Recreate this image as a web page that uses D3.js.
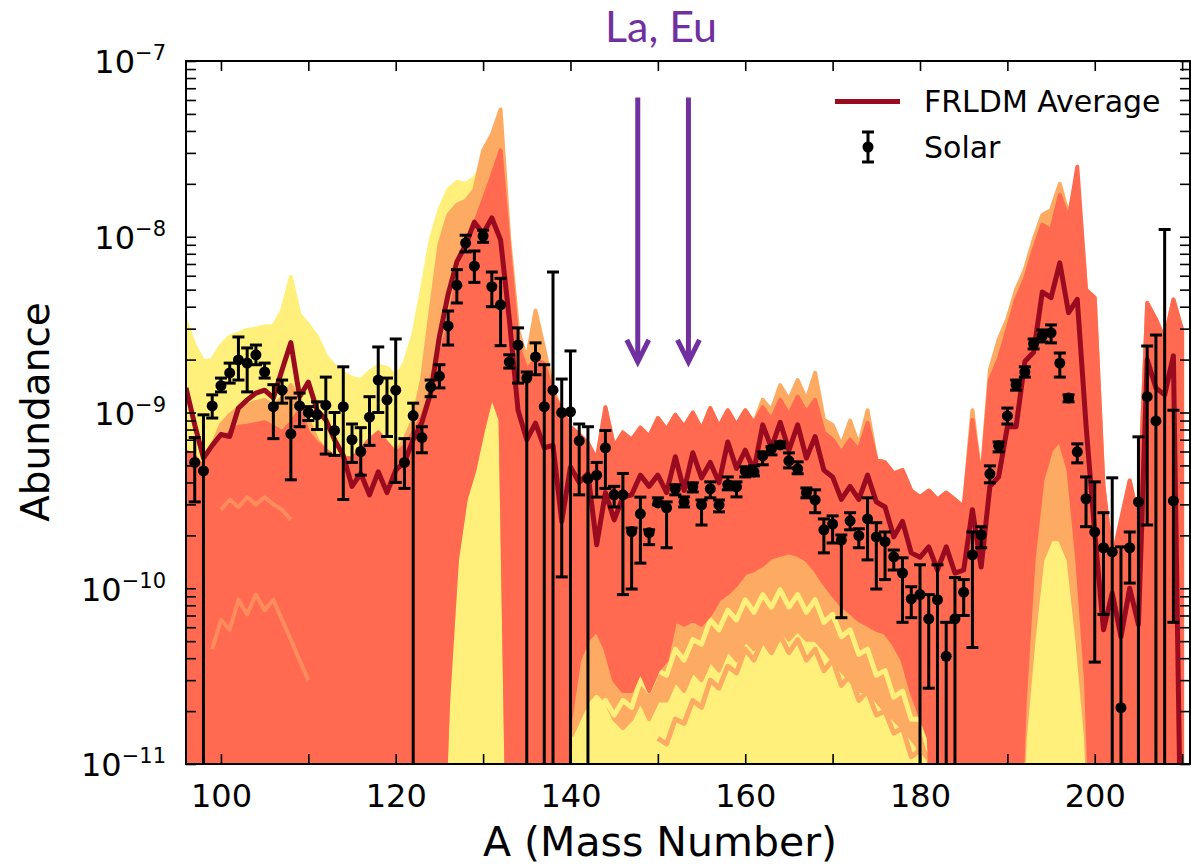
<!DOCTYPE html>
<html><head><meta charset="utf-8">
<script src="https://cdn.jsdelivr.net/npm/d3@7"></script>
<style>
body{margin:0;background:#fff}
svg{display:block}
text{font-family:"DejaVu Sans",sans-serif;fill:#000}
</style>
</head><body>
<svg id="chart" width="1191" height="868"></svg>
<script>
// ---------- DATA ----------
// mass numbers for the model band (A = 96 ... 210)
const bandA = d3.range(96, 211);

// upper envelope of the yellow model runs
const yellowTop = [
 3.3e-9,2.4e-9,1.95e-9,2.0e-9,2.4e-9,2.7e-9,2.8e-9,2.95e-9,3.0e-9,3.1e-9,
 3.1e-9,3.8e-9,5.9e-9,3.6e-9,3.15e-9,2.7e-9,2.1e-9,1.84e-9,1.68e-9,1.57e-9,
 1.53e-9,1.7e-9,1.84e-9,1.8e-9,1.6e-9,1.9e-9,2.76e-9,5.0e-9,9.6e-9,1.42e-8,
 1.85e-8,2.05e-8,2.0e-8,2.16e-8,2.56e-8,1.6e-8,7.4e-9,9.1e-10,1.45e-10,1.9e-10,
 1.9e-10,1.0e-10,6.0e-11,5.0e-11,4.0e-11,5.0e-11,6.0e-11,6.5e-11,5.5e-11,4.5e-11,
 4.0e-11,4.5e-11,5.0e-11,4.5e-11,5.5e-11,5.0e-11,7.0e-11,6.0e-11,8.0e-11,7.0e-11,
 9.0e-11,8.0e-11,1.0e-10,9.0e-11,1.1e-10,1.0e-10,1.2e-10,1.1e-10,1.25e-10,1.15e-10,
 1.2e-10,1.1e-10,1.05e-10,9.0e-11,8.0e-11,7.0e-11,6.5e-11,6.0e-11,5.5e-11,5.0e-11,
 4.5e-11,4.0e-11,3.5e-11,3.0e-11,2.5e-11,2.0e-11,1.5e-11,1e-12,1e-12,1e-12,
 1e-12,1e-12,1e-12,1e-12,1e-12,3.0e-11,1.0e-10,3.0e-10,5.0e-10,6.5e-10,
 7.0e-10,5.0e-10,2.0e-10,5.0e-11,1e-12,1e-12,1e-12,1e-12,1e-12,1e-12,
 1e-12,1e-12,1e-12,1e-12,1e-12
];

// upper envelope of the orange model runs
const orangeTop = [
 6.0e-10,5.6e-10,4.9e-10,6.5e-10,8.5e-10,9.7e-10,1.06e-9,1.1e-9,1.15e-9,1.18e-9,
 1.1e-9,1.21e-9,1.43e-9,1.18e-9,9.1e-10,7.0e-10,6.1e-10,5.6e-10,5.5e-10,5.5e-10,
 6.1e-10,7.0e-10,7.7e-10,6.7e-10,5.9e-10,7.0e-10,9.1e-10,1.53e-9,3.8e-9,9.0e-9,
 1.33e-8,1.52e-8,1.6e-8,1.85e-8,3.1e-8,3.8e-8,5.3e-8,9.6e-9,2.95e-9,2.0e-9,
 3.8e-9,2.3e-9,1.34e-9,1.03e-9,8.3e-10,7.5e-10,6.7e-10,5.4e-10,1.07e-9,6.4e-10,
 7.7e-10,7.0e-10,8.2e-10,7.3e-10,9.3e-10,8.0e-10,9.7e-10,8.3e-10,1.0e-9,8.0e-10,
 1.06e-9,8.3e-10,1.03e-9,8.5e-10,1.03e-9,8.7e-10,1.18e-9,1.03e-9,1.43e-9,1.18e-9,
 1.53e-9,1.18e-9,1.68e-9,9.1e-10,8.5e-10,6.5e-10,9.0e-10,6.5e-10,1.03e-9,5.4e-10,
 5.2e-10,4.5e-10,4.7e-10,3.6e-10,3.3e-10,3.6e-10,3.2e-10,3.5e-10,3.2e-10,2.9e-10,
 1.03e-9,4.1e-10,1.75e-9,2.6e-9,3.4e-9,5.0e-9,6.5e-9,9.6e-9,1.33e-8,1.42e-8,
 2.0e-8,1.33e-8,2.2e-8,5.0e-9,4.5e-9,3.8e-10,1.45e-10,2.45e-10,4.1e-10,2.45e-10,
 4.2e-9,3.4e-9,2.6e-9,4.4e-9,2.95e-9
];

// lower edge of the orange runs (yellow shows below)
const orangeLow = [
 1e-12,1e-12,1e-12,1e-12,1e-12,1e-12,1e-12,1e-12,1e-12,1e-12,
 1e-12,1e-12,1e-12,1e-12,1e-12,1e-12,1e-12,1e-12,1e-12,1e-12,
 1e-12,1e-12,1e-12,1e-12,1e-12,1e-12,1e-12,1e-12,1e-12,1e-12,
 2.3e-11,1.45e-10,3.2e-10,4.7e-10,8.0e-10,1.26e-9,9.1e-10,1e-12,1e-12,1e-12,
 1e-12,1e-12,1e-12,1e-12,1.4e-11,1.8e-11,2.3e-11,2.6e-11,2.3e-11,1.8e-11,
 1.6e-11,1.8e-11,2.3e-11,1.8e-11,2.3e-11,2.3e-11,3.0e-11,2.6e-11,3.4e-11,3.0e-11,
 3.9e-11,3.4e-11,4.5e-11,3.9e-11,5.1e-11,4.5e-11,5.1e-11,4.5e-11,5.8e-11,5.1e-11,
 5.8e-11,5.1e-11,5.1e-11,4.5e-11,3.9e-11,3.4e-11,3.0e-11,2.6e-11,2.6e-11,2.3e-11,
 2.0e-11,1.8e-11,1.6e-11,1.4e-11,1.2e-11,1.06e-11,1e-12,1e-12,1e-12,1e-12,
 1e-12,1e-12,1e-12,1e-12,1e-12,1e-12,1.4e-11,5.1e-11,1.45e-10,1.9e-10,
 1.9e-10,1.45e-10,5.1e-11,1.4e-11,1e-12,1e-12,1e-12,1e-12,1e-12,1e-12,
 1e-12,1e-12,1e-12,1e-12,1e-12
];

// upper envelope of the red-orange model runs
const redTop = [
 6.0e-10,5.6e-10,4.9e-10,6.0e-10,7.0e-10,7.7e-10,8.3e-10,8.4e-10,8.6e-10,8.8e-10,
 8.3e-10,7.7e-10,8.7e-10,1.03e-9,7.7e-10,6.7e-10,6.1e-10,5.6e-10,5.5e-10,5.5e-10,
 6.1e-10,7.0e-10,7.7e-10,6.7e-10,5.9e-10,6.4e-10,7.7e-10,9.4e-10,1.3e-9,2.0e-9,
 3.1e-9,5.7e-9,8.4e-9,1.17e-8,1.6e-8,2.2e-8,3.1e-8,8.4e-9,2.4e-9,1.75e-9,
 2.0e-9,1.9e-9,1.26e-9,1.03e-9,8.3e-10,7.5e-10,6.7e-10,5.4e-10,1.07e-9,6.4e-10,
 7.7e-10,7.0e-10,8.2e-10,7.3e-10,9.3e-10,8.0e-10,9.7e-10,8.3e-10,1.0e-9,8.0e-10,
 1.06e-9,8.3e-10,1.03e-9,8.5e-10,1.03e-9,8.7e-10,1.07e-9,9.1e-10,1.18e-9,9.7e-10,
 1.23e-9,1.0e-9,1.18e-9,7.7e-10,7.0e-10,5.9e-10,7.0e-10,6.1e-10,8.7e-10,5.4e-10,
 5.2e-10,4.5e-10,4.7e-10,3.6e-10,3.3e-10,3.6e-10,3.2e-10,3.5e-10,3.2e-10,2.9e-10,
 9.1e-10,4.1e-10,1.53e-9,2.0e-9,2.95e-9,4.4e-9,5.7e-9,8.4e-9,1.17e-8,1.09e-8,
 1.73e-8,1.25e-8,2.5e-8,5.0e-9,4.5e-9,3.8e-10,1.45e-10,2.45e-10,4.1e-10,2.45e-10,
 4.2e-9,3.4e-9,2.6e-9,4.4e-9,2.95e-9
];

// lower edge of the red-orange runs
const redLow = [
 1e-12,1e-12,1e-12,1e-12,1e-12,1e-12,1e-12,1e-12,1e-12,1e-12,
 1e-12,1e-12,1e-12,1e-12,1e-12,1e-12,1e-12,1e-12,1e-12,1e-12,
 1e-12,1e-12,1e-12,1e-12,1e-12,1e-12,1e-12,1e-12,1e-12,1e-12,
 2.3e-11,1.45e-10,3.2e-10,4.7e-10,8.0e-10,1.26e-9,9.1e-10,1e-12,1e-12,1e-12,
 1e-12,1e-12,1e-12,1e-12,1.8e-11,3.9e-11,5.1e-11,5.8e-11,4.5e-11,3.0e-11,
 2.6e-11,2.6e-11,3.4e-11,2.6e-11,3.4e-11,3.9e-11,6.6e-11,6.2e-11,6.6e-11,6.2e-11,
 7.1e-11,8.6e-11,9.4e-11,1.05e-10,1.22e-10,1.27e-10,1.36e-10,1.5e-10,1.55e-10,1.6e-10,
 1.55e-10,1.45e-10,1.27e-10,1.07e-10,9.2e-11,8.0e-11,7.3e-11,6.6e-11,6.2e-11,5.8e-11,
 5.6e-11,4.8e-11,3.9e-11,2.6e-11,1.9e-11,1.4e-11,1e-12,1e-12,1e-12,1e-12,
 1e-12,1e-12,1e-12,1e-12,1e-12,1e-12,2.3e-11,1.45e-10,4.1e-10,6.1e-10,
 7.0e-10,4.7e-10,1.45e-10,3.0e-11,1e-12,1e-12,1e-12,1e-12,1e-12,1e-12,
 1e-12,1e-12,1e-12,1e-12,1e-12
];

// a few individual lighter model runs seen in the lower part of the band
const strandA1 = d3.range(140, 183);
const strandYellow = [
 1.4e-11,1.3e-11,1.8e-11,1.7e-11,2.3e-11,1.9e-11,2.3e-11,2.1e-11,3.0e-11,2.6e-11,
 3.4e-11,3.2e-11,4.5e-11,3.9e-11,5.1e-11,4.8e-11,6.6e-11,5.8e-11,7.5e-11,6.6e-11,
 8.6e-11,7.3e-11,9.2e-11,7.8e-11,9.8e-11,7.8e-11,9.2e-11,7.3e-11,8.6e-11,6.4e-11,
 7.1e-11,5.3e-11,5.8e-11,4.2e-11,4.5e-11,3.2e-11,3.4e-11,2.4e-11,2.6e-11,1.8e-11,
 1.8e-11,1.2e-11,1.2e-11
];
const strandA2 = d3.range(150, 181);
const strandOrange = [
 1.4e-11,1.3e-11,1.8e-11,1.7e-11,2.3e-11,2.1e-11,3.0e-11,2.7e-11,3.6e-11,3.3e-11,
 4.5e-11,3.9e-11,5.1e-11,4.3e-11,5.4e-11,4.3e-11,5.1e-11,3.9e-11,4.5e-11,3.4e-11,
 3.9e-11,2.8e-11,3.2e-11,2.3e-11,2.6e-11,1.9e-11,2.0e-11,1.5e-11,1.6e-11,1.1e-11,
 1.2e-11
];
const strandA3 = [100,101,102,103,104,105,106,107,108];
const strandSalmonHigh = [2.8e-10,3.2e-10,2.9e-10,3.3e-10,3.0e-10,3.3e-10,3.0e-10,2.8e-10,2.45e-10];
const strandA4 = [99,100,101,102,103,104,105,106,107,108,109,110];
const strandSalmonLow = [4.5e-11,6.6e-11,5.8e-11,8.6e-11,7.1e-11,9.2e-11,7.5e-11,8.6e-11,6.6e-11,5.1e-11,3.9e-11,3.0e-11];

// FRLDM average
const frldmAverage = [
 1.38e-9,8.5e-10,5.5e-10,6.5e-10,7.5e-10,7.3e-10,1.06e-9,1.18e-9,1.29e-9,1.34e-9,
 1.21e-9,1.75e-9,2.5e-9,1.23e-9,1.49e-9,1.03e-9,9.1e-10,7.0e-10,5.7e-10,3.8e-10,
 4.5e-10,3.4e-10,4.6e-10,3.5e-10,4.7e-10,5.2e-10,7.0e-10,8.8e-10,1.29e-9,2.7e-9,
 4.7e-9,7.2e-9,9.0e-9,1.21e-8,1.04e-8,1.28e-8,9.6e-9,3.4e-9,1.03e-9,7.0e-10,
 8.7e-10,6.3e-10,6.5e-10,2.4e-10,4.9e-10,4.0e-10,4.5e-10,1.77e-10,3.5e-10,2.45e-10,
 3.3e-10,3.4e-10,4.4e-10,3.8e-10,4.4e-10,3.5e-10,5.6e-10,3.6e-10,5.9e-10,4.25e-10,
 5.2e-10,3.98e-10,6.8e-10,4.8e-10,6.1e-10,4.7e-10,8.5e-10,6.3e-10,8.8e-10,6.1e-10,
 8.5e-10,5.5e-10,7.3e-10,4.7e-10,4.3e-10,3.2e-10,3.8e-10,3.2e-10,4.4e-10,3.1e-10,
 2.9e-10,1.96e-10,2.4e-10,1.59e-10,1.5e-10,1.72e-10,1.27e-10,1.72e-10,1.22e-10,1.27e-10,
 2.8e-10,1.32e-10,3.8e-10,4.3e-10,8.3e-10,8.3e-10,1.95e-9,2.2e-9,4.85e-9,4.5e-9,
 7.1e-9,3.7e-9,4.4e-9,8.5e-10,2.07e-10,5.8e-11,9.4e-11,5.3e-11,1.0e-10,6.2e-11,
 2.0e-9,1.38e-9,1.26e-9,2.1e-9,1e-12
];

// Solar r-process residuals
const solarA = d3.range(97, 210);
const solarValue = [
 5.2e-10,4.65e-10,1.09e-9,1.42e-9,1.68e-9,1.99e-9,1.91e-9,2.13e-9,1.70e-9,1.08e-9,
 1.34e-9,7.55e-10,1.09e-9,1.0e-9,9.7e-10,1.10e-9,7.9e-10,1.08e-9,7.0e-10,6.0e-10,
 9.4e-10,1.53e-9,1.18e-9,1.34e-9,5.2e-10,9.6e-10,7.2e-10,1.40e-9,1.61e-9,3.11e-9,
 5.3e-9,9.2e-9,6.8e-9,1.01e-8,5.2e-9,4.1e-9,1.94e-9,2.42e-9,1.57e-9,2.07e-9,
 1.08e-9,1.34e-9,1.0e-9,1.01e-9,6.9e-10,4.2e-10,4.4e-10,6.3e-10,3.4e-10,3.4e-10,
 2.1e-10,2.65e-10,2.07e-10,3.06e-10,2.87e-10,3.68e-10,3.10e-10,3.77e-10,2.98e-10,3.68e-10,
 2.98e-10,3.88e-10,3.77e-10,4.65e-10,4.59e-10,5.66e-10,6.21e-10,6.54e-10,5.31e-10,4.78e-10,
 3.49e-10,3.18e-10,2.15e-10,2.32e-10,1.88e-10,2.42e-10,1.99e-10,2.48e-10,1.96e-10,1.84e-10,
 1.51e-10,1.22e-10,8.7e-11,9.2e-11,6.7e-11,8.6e-11,4.1e-11,6.7e-11,9.5e-11,1.55e-10,
 2.01e-10,4.48e-10,6.46e-10,9.56e-10,1.44e-9,1.70e-9,2.46e-9,2.73e-9,2.84e-9,1.91e-9,
 1.21e-9,5.97e-10,3.23e-10,2.09e-10,1.70e-10,1.61e-10,2.09e-11,1.70e-10,3.10e-10,1.23e-9,
 8.96e-10,5e-12,3.14e-10
];
const solarHigh = [
 7.2e-10,9.7e-10,1.26e-9,1.57e-9,1.91e-9,2.69e-9,2.33e-9,2.42e-9,1.91e-9,1.44e-9,
 1.53e-9,1.21e-9,1.29e-9,1.08e-9,1.15e-9,1.59e-9,1.0e-9,1.82e-9,8.6e-10,8.2e-10,
 1.23e-9,2.36e-9,1.57e-9,2.62e-9,7.1e-10,1.13e-9,8.3e-10,1.53e-9,1.87e-9,3.78e-9,
 6.5e-9,1.02e-8,8.3e-9,1.09e-8,6.3e-9,5.8e-9,2.13e-9,3.03e-9,1.70e-9,2.49e-9,
 1.87e-9,6.3e-9,1.55e-9,2.24e-9,8.6e-10,8.3e-10,5.2e-10,7.9e-10,3.8e-10,4.5e-10,
 2.2e-10,3.3e-10,2.15e-10,3.27e-10,3.10e-10,3.88e-10,3.31e-10,3.98e-10,3.18e-10,4.03e-10,
 3.18e-10,4.30e-10,4.03e-10,4.91e-10,4.97e-10,5.97e-10,6.38e-10,6.80e-10,5.89e-10,5.24e-10,
 3.72e-10,3.63e-10,2.48e-10,2.58e-10,2.01e-10,2.69e-10,2.18e-10,3.27e-10,2.36e-10,2.09e-10,
 1.65e-10,1.49e-10,1.02e-10,1.36e-10,9.2e-11,1.36e-10,6.4e-11,1.15e-10,1.12e-10,2.09e-10,
 2.24e-10,4.97e-10,6.80e-10,1.06e-9,1.53e-9,1.82e-9,2.62e-9,2.95e-9,3.15e-9,2.18e-9,
 1.26e-9,6.63e-10,4.30e-10,4.03e-10,2.69e-10,4.25e-10,1.72e-10,2.09e-10,7.27e-10,2.39e-9,
 2.76e-9,1.1e-8,1.03e-9
];
const solarLow = [
 3.1e-10,1e-12,9.3e-10,1.31e-9,1.47e-9,1.53e-9,1.31e-9,1.87e-9,1.57e-9,7.1e-10,
 1.13e-9,4.14e-10,8.3e-10,9.0e-10,8.0e-10,5.8e-10,5.7e-10,3.2e-10,5.2e-10,4.4e-10,
 6.5e-10,1.0e-9,7.3e-10,4.0e-10,3.7e-10,1e-12,5.9e-10,1.23e-9,1.38e-9,2.42e-9,
 4.2e-9,8.2e-9,5.5e-9,9.3e-9,4.0e-9,2.4e-9,1.79e-9,1.47e-9,1e-12,1.64e-9,
 1e-12,1e-12,1.16e-10,1e-12,3.4e-10,1e-12,3.3e-10,3.7e-10,2.9e-10,9.2e-11,
 9.9e-11,1.39e-10,1.77e-10,2.98e-10,1.70e-10,3.40e-10,2.90e-10,3.53e-10,2.29e-10,3.27e-10,
 2.72e-10,3.63e-10,3.31e-10,4.30e-10,4.36e-10,5.04e-10,5.74e-10,6.29e-10,4.84e-10,4.48e-10,
 3.27e-10,2.69e-10,1.59e-10,1.81e-10,6.8e-11,2.15e-10,1.70e-10,1.45e-10,9.9e-11,1.12e-10,
 1.27e-10,6.4e-11,6.8e-11,1e-12,2.7e-11,1e-12,1e-12,1e-12,7.0e-11,4.6e-11,
 1.70e-10,3.98e-10,5.97e-10,8.6e-10,1.34e-9,1.59e-9,2.30e-9,2.52e-9,2.49e-9,1.59e-9,
 1.15e-9,5.17e-10,2.24e-10,3.8e-11,7.1e-11,1e-12,1e-12,1.07e-10,1e-12,2.29e-10,
 1e-12,1e-12,6.4e-11
];

// annotation arrows (La, Eu)
const arrowA = [147.7, 153.5];
const arrowTopValue = 6.2e-8;
const arrowTipValue = 1.94e-9;

// axis ticks
const xTicks = [100,110,120,130,140,150,160,170,180,190,200,210];
const xLabelTicks = [100,120,140,160,180,200];
const yMajorTicks = [1e-11,1e-10,1e-9,1e-8,1e-7];
const yExponents = ["\u221211","\u221210","\u22129","\u22128","\u22127"];

// ---------- DRAW ----------
const L=186, R=1190, T=61, B=764;
const svg = d3.select("#chart");
const x = d3.scaleLinear().domain([96, 210.9]).range([L, R]);
const y = d3.scaleLog().domain([1e-11, 1e-7]).range([B, T]);

const colYellow = "#fef07a", colOrange = "#fdab62", colRed = "#ff6a50",
      colSalmon = "#ff8c5c", colAvg = "#9a0b1f";
const black = "#000";

svg.append("defs").append("clipPath").attr("id","plotclip")
  .append("rect").attr("x",L).attr("y",T).attr("width",R-L).attr("height",B-T);

const plot = svg.append("g").attr("clip-path","url(#plotclip)");

function band(top, low, color){
  const area = d3.area()
    .x((d,i)=>x(bandA[i]))
    .y0((d,i)=>y(low[i]))
    .y1((d,i)=>y(top[i]));
  plot.append("path").datum(top).attr("d", area)
    .attr("fill", color).attr("stroke", color)
    .attr("stroke-width", 4).attr("stroke-linejoin","round");
}
function strand(xs, vals, color, w){
  const ln = d3.line().x((d,i)=>x(xs[i])).y(d=>y(d));
  plot.append("path").datum(vals).attr("d", ln)
    .attr("fill","none").attr("stroke",color).attr("stroke-width",w)
    .attr("stroke-linejoin","round");
}
band(yellowTop, yellowTop.map(()=>1e-12), colYellow);
band(orangeTop, orangeLow, colOrange);
strand(strandA1, strandYellow, colYellow, 5);
strand(strandA2, strandOrange, colOrange, 5);
band(redTop, redLow, colRed);
strand(strandA3, strandSalmonHigh, colSalmon, 4);
strand(strandA4, strandSalmonLow, colSalmon, 4);

// average line
const line = d3.line().x((d,i)=>x(bandA[i])).y(d=>y(d));
plot.append("path").datum(frldmAverage).attr("d", line)
  .attr("fill","none").attr("stroke", colAvg).attr("stroke-width",5)
  .attr("stroke-linejoin","round");

// solar error bars
const sol = plot.append("g");
solarA.forEach((a,i)=>{
  const cx = x(a);
  sol.append("line").attr("x1",cx).attr("x2",cx)
    .attr("y1",y(solarHigh[i])).attr("y2",y(solarLow[i]))
    .attr("stroke",black).attr("stroke-width",3);
  [solarHigh[i], solarLow[i]].forEach(v=>{
    sol.append("line").attr("x1",cx-6).attr("x2",cx+6)
      .attr("y1",y(v)).attr("y2",y(v))
      .attr("stroke",black).attr("stroke-width",3);
  });
  sol.append("circle").attr("cx",cx).attr("cy",y(solarValue[i])).attr("r",5.5).attr("fill",black);
});

// arrows
const purple = "#7030a0";
arrowA.forEach(a=>{
  const ax = x(a), y0 = y(arrowTopValue), y1 = y(arrowTipValue);
  svg.append("line").attr("x1",ax).attr("x2",ax).attr("y1",y0).attr("y2",y1-2)
    .attr("stroke",purple).attr("stroke-width",5);
  svg.append("path").attr("d",`M${ax-11},${y1-22}L${ax},${y1}L${ax+11},${y1-22}`)
    .attr("fill","none").attr("stroke",purple).attr("stroke-width",5)
    .attr("stroke-linejoin","miter");
});
svg.append("text").attr("x",661).attr("y",42).attr("text-anchor","middle")
  .style("font-family","Lato, 'Open Sans', sans-serif").style("font-size","43px")
  .style("fill",purple).text("La, Eu");

// axes
function styleAxis(g){
  g.select(".domain").remove();
  g.selectAll(".tick line").attr("stroke",black).attr("stroke-width",1.6);
  g.selectAll(".tick text").style("font-family","'DejaVu Sans', sans-serif").style("font-size","32px").attr("fill",black);
}
const xb = svg.append("g").attr("transform",`translate(0,${B})`)
  .call(d3.axisBottom(x).tickValues(xTicks).tickSize(-10).tickPadding(20)
    .tickFormat(d=> xLabelTicks.includes(d) ? String(d) : ""));
styleAxis(xb);
const xt = svg.append("g").attr("transform",`translate(0,${T})`)
  .call(d3.axisTop(x).tickValues(xTicks).tickSize(-10).tickFormat(""));
styleAxis(xt);

const yMinor = [];
[-11,-10,-9,-8].forEach(e=>{ for(let k=2;k<10;k++) yMinor.push(k*Math.pow(10,e)); });

const yl = svg.append("g").attr("transform",`translate(${L},0)`)
  .call(d3.axisLeft(y).tickValues(yMajorTicks).tickSize(-10).tickPadding(20).tickFormat(""));
styleAxis(yl);
yl.selectAll(".tick").each(function(d){
  const t = d3.select(this).append("text").attr("x",-20).attr("y",0).attr("dy","0.37em")
    .attr("text-anchor","end").style("font-size","32px").attr("fill",black);
  t.append("tspan").text("10");
  t.append("tspan").attr("dy",-13).style("font-size","21px").text(yExponents[yMajorTicks.indexOf(d)]);
});
const ylm = svg.append("g").attr("transform",`translate(${L},0)`)
  .call(d3.axisLeft(y).tickValues(yMinor).tickSize(-10).tickFormat(""));
styleAxis(ylm);
const yr = svg.append("g").attr("transform",`translate(${R},0)`)
  .call(d3.axisRight(y).tickValues(yMajorTicks.concat(yMinor)).tickSize(-10).tickFormat(""));
styleAxis(yr);

// frame
svg.append("rect").attr("x",L).attr("y",T).attr("width",R-L).attr("height",B-T)
  .attr("fill","none").attr("stroke",black).attr("stroke-width",2);

// axis labels
svg.append("text").attr("x",660).attr("y",856).attr("text-anchor","middle")
  .style("font-size","41px").text("A (Mass Number)");
svg.append("text").attr("transform","translate(49,412) rotate(-90)").attr("text-anchor","middle")
  .style("font-size","39px").text("Abundance");

// legend
const lg = svg.append("g");
lg.append("line").attr("x1",835).attr("x2",900).attr("y1",101.5).attr("y2",101.5)
  .attr("stroke",colAvg).attr("stroke-width",5);
lg.append("text").attr("x",924).attr("y",112).style("font-size","30px").text("FRLDM Average");
lg.append("line").attr("x1",868).attr("x2",868).attr("y1",132).attr("y2",162).attr("stroke",black).attr("stroke-width",3);
lg.append("line").attr("x1",862).attr("x2",874).attr("y1",132).attr("y2",132).attr("stroke",black).attr("stroke-width",3);
lg.append("line").attr("x1",862).attr("x2",874).attr("y1",162).attr("y2",162).attr("stroke",black).attr("stroke-width",3);
lg.append("circle").attr("cx",868).attr("cy",147).attr("r",5.5).attr("fill",black);
lg.append("text").attr("x",924).attr("y",158).style("font-size","30px").text("Solar");
</script>
</body></html>
